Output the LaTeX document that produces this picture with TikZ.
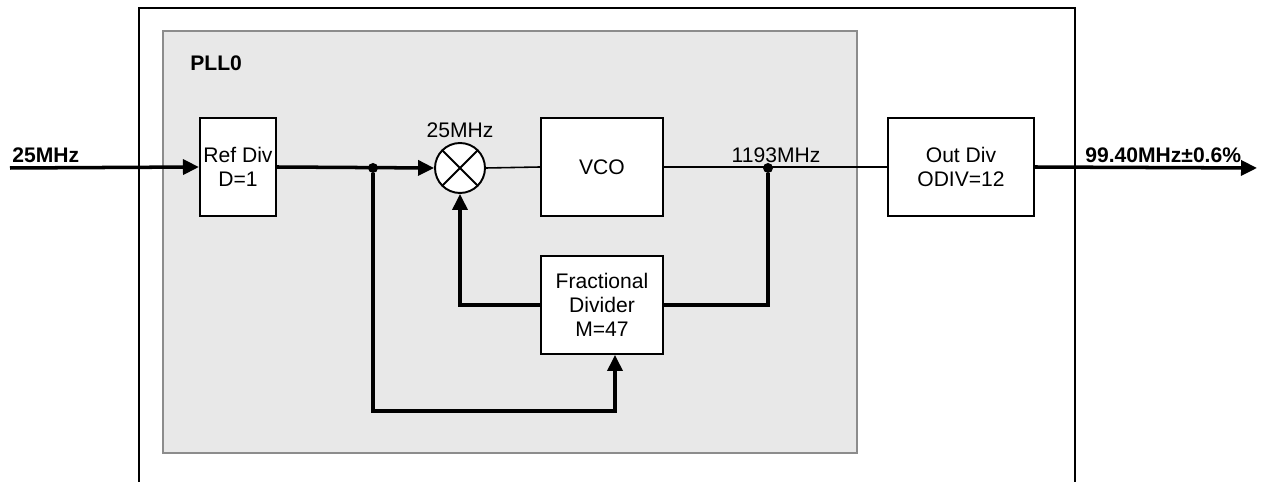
\documentclass[tikz,border=0pt]{standalone}
\usepackage{fontspec}
\setmainfont{Liberation Sans}
\usetikzlibrary{arrows.meta,shapes.geometric}

\tikzset{
  blk/.style={draw,line width=1.1pt,fill=white,minimum height=1.96cm,align=center,inner sep=2pt},
  sig/.style={line width=2pt},
  wire/.style={line width=0.9pt},
  arr/.style={-{Triangle[length=0.32cm,width=0.3cm]}},
  dot/.style={circle,fill,inner sep=0pt,minimum size=0.2cm},
  lbl/.style={anchor=base west,inner sep=0pt}
}

\begin{document}
\begin{tikzpicture}[x=0.02cm,y=-0.02cm,font=\fontsize{12}{13.6}\selectfont]
\path[use as bounding box] (0,0) rectangle (1261,482);
% chip frame and PLL area
\draw[line width=1.6pt] (139,490) -- (139,8) -- (1075,8) -- (1075,490);
\draw[black!45,fill=black!9,line width=0.6pt] (163,31) rectangle (857,453);
\node[lbl,font=\fontsize{12}{13.6}\selectfont\bfseries] (pll) at (190,71) {PLL0};
% blocks
\node[blk,minimum width=1.4cm] (ref) at (238,167) {Ref Div\\D=1};
\node[circle,draw,line width=1.1pt,fill=white,minimum size=1cm,inner sep=0pt] (mix) at (460,168) {};
\draw[line width=1.1pt] (mix.north west) -- (mix.south east) (mix.north east) -- (mix.south west);
\node[blk,minimum width=2.44cm] (vco) at (602,167) {VCO};
\node[blk,minimum width=2.92cm] (out) at (961,167) {Out Div\\ODIV=12};
\node[blk,minimum width=2.44cm] (frac) at (602,305) {Fractional\\Divider\\M=47};
% points
\coordinate (in) at (10,168);
\coordinate (fout) at (1257,168);
\node[dot] (split1) at (373,168) {};
\node[dot] (split2) at (768,168) {};
\coordinate (fb) at ([xshift=0.26cm]frac.south);
% connections
\draw[sig,arr] (in) -- (ref.west);
\draw[sig,arr] (ref.east) -- (mix.west);
\draw[wire] (mix.east) -- (vco.west);
\draw[wire] (vco.east) -- (out.west);
\draw[sig,arr] (out.east) -- (fout);
\draw[sig] (split2) |- (frac.east);
\draw[sig,arr] (frac.west) -| (mix.south);
\draw[sig,arr] (split1) |- ([yshift=-1.12cm]fb) -- (fb);
% labels
\node[lbl,font=\fontsize{12}{13.6}\selectfont\bfseries] (lin) at (12,163) {25MHz};
\node[anchor=base,inner sep=0pt] (lmix) at (460,138) {25MHz};
\node[anchor=base,inner sep=0pt] (lvco) at (776,163) {1193MHz};
\node[lbl,font=\fontsize{12}{13.6}\selectfont\bfseries] (lout) at (1085,163) {99.40MHz±0.6\%};
\end{tikzpicture}
\end{document}
